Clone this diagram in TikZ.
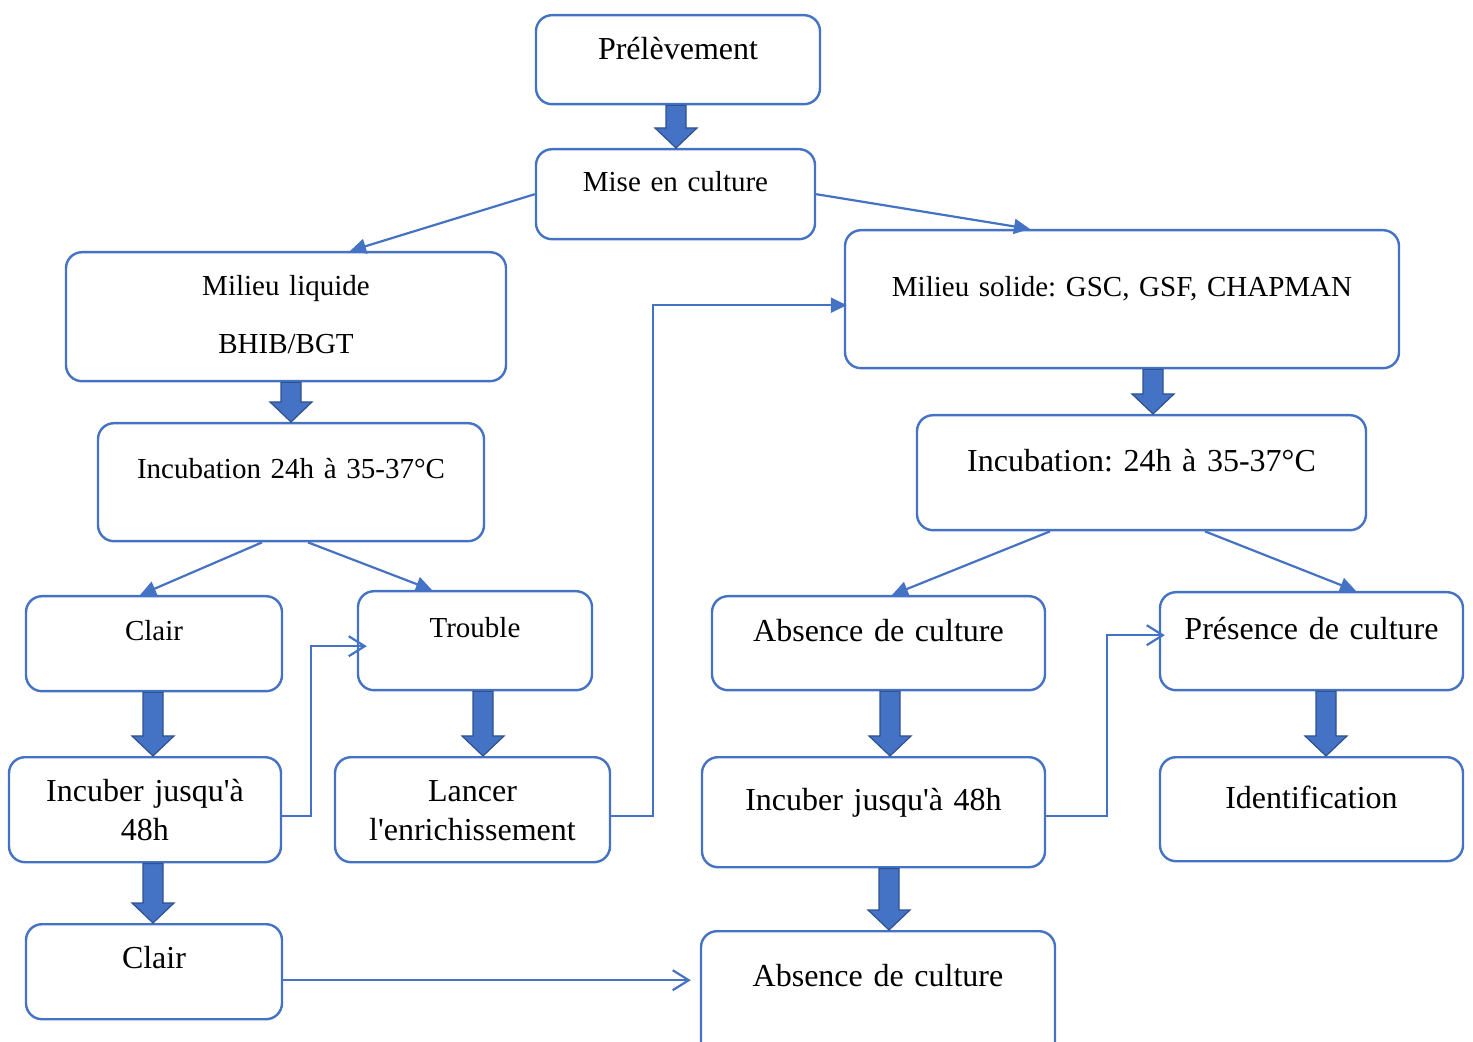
\documentclass[tikz,border=0pt]{standalone}
\usepackage{fontspec}
\setmainfont{Liberation Serif}
\usetikzlibrary{arrows.meta,calc}
\frenchspacing
\definecolor{boxblue}{HTML}{4472C4}
\definecolor{fatedge}{HTML}{2F528F}
\newcommand{\bigtxt}{\fontsize{16}{19.5}\selectfont}
\newcommand{\smalltxt}{\fontsize{14.5}{17.5}\selectfont}
\begin{document}
\begin{tikzpicture}[x=0.5pt,y=-0.5pt,
    box/.style={draw=boxblue,line width=1.2pt,rounded corners=8pt,inner xsep=0pt,
        inner ysep=0pt,align=center,anchor=north},
    link/.style={draw=boxblue,line width=1.1pt,-{Triangle[length=8pt,width=7.5pt]}},
    openlink/.style={draw=boxblue,line width=1.1pt,-{Straight Barb[length=8pt,width=10pt]}},
    fat/.style={draw=fatedge,fill=boxblue,line width=0.6pt,
        to path={let \p1=(\tikztostart), \p2=(\tikztotarget) in
            (\x1-5pt,\y1) -- (\x1+5pt,\y1) -- (\x1+5pt,\y2+10pt) -- (\x1+10.5pt,\y2+10pt)
            -- (\x1,\y2) -- (\x1-10.5pt,\y2+10pt) -- (\x1-5pt,\y2+10pt) -- cycle}}]
    \useasboundingbox (0,0) rectangle (1473,1042);

    % top
    \node[box,font=\bigtxt,text width=142pt,text height=22pt,text depth=22.5pt] (pre) at (678,14) {Prélèvement};
    \node[box,font=\smalltxt,text width=139.5pt,text height=21pt,text depth=24pt] (mise) at (675.5,148) {Mise en culture};

    % liquid side
    \node[box,font=\fontsize{14.5}{29}\selectfont,text width=220pt,text height=21.5pt,text depth=43pt] (liq) at (286,251) {Milieu liquide\\BHIB/BGT};
    \node[box,font=\smalltxt,text width=193pt,text height=27.5pt,text depth=31.5pt] (incl) at (291,422) {Incubation 24h à 35-37°C};
    \node[box,font=\smalltxt,text width=128pt,text height=22pt,text depth=25.5pt] (clair1) at (154,595) {Clair};
    \node[box,font=\smalltxt,text width=117pt,text height=23pt,text depth=26.5pt] (trouble) at (475,590) {Trouble};
    \node[box,font=\bigtxt,text width=136pt,text height=22pt,text depth=30.5pt] (incub1) at (145,756) {Incuber jusqu\textquotesingle à\\48h};
    \node[box,font=\bigtxt,text width=137.5pt,text height=22pt,text depth=30.5pt] (lancer) at (472.5,756) {Lancer\\l\textquotesingle enrichissement};
    \node[box,font=\bigtxt,text width=128pt,text height=22pt,text depth=25.5pt] (clair2) at (154,923) {Clair};

    % solid side
    \node[box,font=\smalltxt,text width=277pt,text height=33pt,text depth=36pt] (sol) at (1122,229) {Milieu solide: GSC, GSF, CHAPMAN};
    \node[box,font=\bigtxt,text width=224.5pt,text height=28pt,text depth=29.5pt] (incr) at (1141.5,414) {Incubation: 24h à 35-37°C};
    \node[box,font=\bigtxt,text width=166.5pt,text height=22.5pt,text depth=24.5pt] (abs1) at (878.5,595) {Absence de culture};
    \node[box,font=\bigtxt,text width=151.5pt,text height=23.5pt,text depth=25.5pt] (pres) at (1311.5,591) {Présence de culture};
    \node[box,font=\bigtxt,text width=171.5pt,text height=26.5pt,text depth=28.5pt] (incub2) at (873.5,756) {Incuber jusqu\textquotesingle à 48h};
    \node[box,font=\bigtxt,text width=151.5pt,text height=25.5pt,text depth=26.5pt] (ident) at (1311.5,756) {Identification};
    \node[box,font=\bigtxt,text width=177pt,text height=27.5pt,text depth=38.5pt] (abs2) at (878,930) {Absence de culture};

    % block arrows
    \draw[fat] ([xshift=-1pt]pre.south) to (mise.north);
    \draw[fat] ([xshift=2.5pt]liq.south) to (incl.north);
    \draw[fat] ([xshift=15.5pt]sol.south) to (incr.north);
    \draw[fat] ([xshift=-0.5pt]clair1.south) to (incub1.north);
    \draw[fat] ([xshift=4pt]trouble.south) to (lancer.north);
    \draw[fat] ([xshift=4pt]incub1.south) to (clair2.north);
    \draw[fat] ([xshift=5.75pt]abs1.south) to (incub2.north);
    \draw[fat] ([xshift=7.25pt]pres.south) to (ident.north);
    \draw[fat] ([xshift=7.75pt]incub2.south) to (abs2.north);

    % thin arrows
    \draw[link] (mise.west) -- ([xshift=32pt]liq.north);
    \draw[link] (mise.east) -- ([xshift=-46pt]sol.north);
    \draw[link] ([xshift=-14.5pt]incl.south) -- ([xshift=-7pt]clair1.north);
    \draw[link] ([xshift=8.5pt]incl.south) -- ([xshift=-21.5pt]trouble.north);
    \draw[link] ([xshift=-45.75pt]incr.south) -- ([xshift=6.75pt]abs1.north);
    \draw[link] ([xshift=31.75pt]incr.south) -- ([xshift=22.25pt]pres.north);

    % elbows
    \draw[openlink,shorten >=-5pt] ([yshift=-3.25pt]incub1.east) -- ++(29,0) |- ([yshift=-2.75pt]trouble.west);
    \draw[link,shorten >=-1.5pt] ([yshift=-3.25pt]lancer.east) -- ++(42,0) |- ([yshift=-3pt]sol.west);
    \draw[openlink,shorten >=-3pt] ([yshift=-2pt]incub2.east) -- ++(61,0) |- ([yshift=3pt]pres.west);
    \coordinate (c2) at ([yshift=-4.25pt]clair2.east);
    \draw[openlink,shorten >=4.5pt] (c2) -- (c2 -| abs2.west);

\end{tikzpicture}
\end{document}
